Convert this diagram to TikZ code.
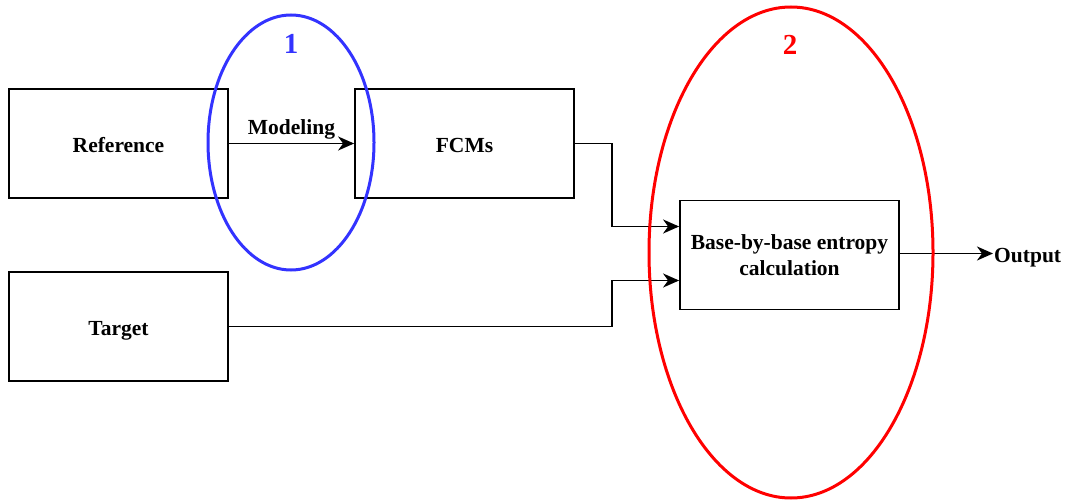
\documentclass[tikz,border=0pt]{standalone}
\usepackage{fontspec}
\setmainfont{Liberation Serif}
\usetikzlibrary{positioning, shapes.geometric, arrows.meta}
\definecolor{GroupBlue}{RGB}{51, 51, 255}
\definecolor{GroupRed}{RGB}{255, 0, 0}

\begin{document}
\begin{tikzpicture}[x=1pt, y=-1pt,
    font=\fontsize{21.5}{25.5}\selectfont\bfseries,
    block/.style={draw, line width=1.8pt, minimum width=219pt, minimum height=109pt, inner sep=0pt},
    oneline/.style={text height=18pt, text depth=0pt},
    flow/.style={draw, line width=1.95pt, -{Stealth[length=16pt, width=14pt, inset=5pt]}},
    ring/.style={ellipse, line width=3pt, inner sep=0pt},
    tag/.style={font=\fontsize{29}{29}\selectfont\bfseries}]
  \useasboundingbox (0,0) rectangle (1068,500);

  % Boxes
  \node[block, oneline] (ref) at (118.5,143.5) {Reference};
  \node[block, oneline] (fcms) at (464.5,143.5) {FCMs};
  \node[block, oneline] (target) at (118.5,326.5) {Target};
  \node[block, align=center] (entropy) at (789.5,255) {Base-by-base entropy\\calculation};
  \node[anchor=west, inner sep=1pt, oneline] (out) at (993,253.5) {Output};

  % Connectors
  \draw[flow] (ref.east) -- node[above] (model) {Modeling} (fcms.west);
  \draw[flow] (fcms.east) -- ++(37,0) |- ([yshift=28.5pt]entropy.west);
  \draw[flow] (target.east) -- ++(383,0) |- ([yshift=-25.5pt]entropy.west);
  \draw[flow] (entropy.east) ++(0,-1.5) -- (out.west);

  % Groups
  \node[ring, draw=GroupBlue, minimum width=166pt, minimum height=255pt] (grp1) at (291,142.5) {};
  \node[ring, draw=GroupRed, minimum width=284pt, minimum height=491pt] (grp2) at (791,252.5) {};
  \node[tag, GroupBlue] (num1) at (291,44) {1};
  \node[tag, GroupRed] (num2) at (790,45) {2};
\end{tikzpicture}
\end{document}
